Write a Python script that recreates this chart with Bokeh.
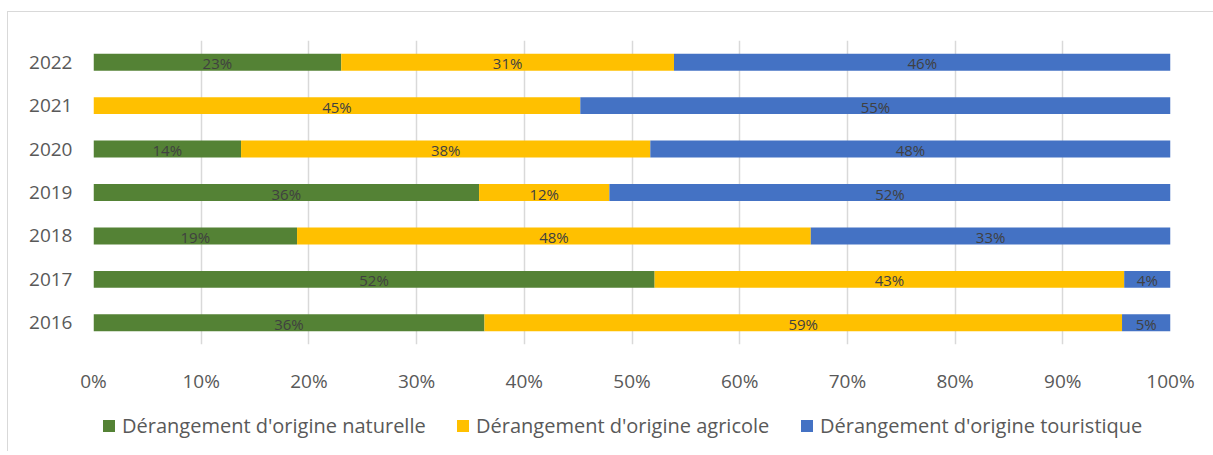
from bokeh.plotting import figure
from bokeh.layouts import column
from bokeh.models import ColumnDataSource, FactorRange, Range1d, FixedTicker, Legend, LegendItem
from bokeh.core.properties import value
from bokeh.embed import file_html
from bokeh.resources import INLINE

# ---- data ----
years = ["2016", "2017", "2018", "2019", "2020", "2021", "2022"]
naturelle = [36.3, 52.1, 18.9, 35.8, 13.7, 0.0, 23.0]
agricole = [59.2, 43.6, 47.7, 12.1, 38.0, 45.2, 30.9]
touristique = [4.5, 4.3, 33.4, 52.1, 48.3, 54.8, 46.1]
naturelle_labels = ["36%", "52%", "19%", "36%", "14%", "", "23%"]
agricole_labels = ["59%", "43%", "48%", "12%", "38%", "45%", "31%"]
touristique_labels = ["5%", "4%", "33%", "52%", "48%", "55%", "46%"]
series_names = ["Dérangement d'origine naturelle",
                "Dérangement d'origine agricole",
                "Dérangement d'origine touristique"]
colors = ["#548235", "#FFC000", "#4472C4"]
x_ticks = [0, 10, 20, 30, 40, 50, 60, 70, 80, 90, 100]
x_tick_labels = ["0%", "10%", "20%", "30%", "40%", "50%", "60%", "70%", "80%", "90%", "100%"]

FONT = "Open Sans"

# ---- main chart ----
p = figure(width=1205, height=384,
           y_range=FactorRange(*years), x_range=Range1d(0, 100),
           output_backend="svg", toolbar_location=None,
           min_border_left=85, min_border_right=43,
           min_border_top=28, min_border_bottom=50)
p.outline_line_color = None

source = ColumnDataSource(dict(years=years, nat=naturelle, agr=agricole, tour=touristique))
renderers = p.hbar_stack(["nat", "agr", "tour"], y="years", height=0.39,
                         color=colors, line_color=None, source=source)

# data labels at segment centers
lx, ly, lt = [], [], []
for i, y in enumerate(years):
    left = 0.0
    for vals, labs in ((naturelle, naturelle_labels), (agricole, agricole_labels),
                       (touristique, touristique_labels)):
        v = vals[i]
        if labs[i]:
            lx.append(left + v / 2.0)
            ly.append(y)
            lt.append(labs[i])
        left += v
lab_src = ColumnDataSource(dict(x=lx, y=ly, text=lt))
p.text(x="x", y="y", text="text", source=lab_src, text_align="center",
       text_baseline="middle", text_font=value(FONT), text_font_size="15px",
       text_color="#404040", y_offset=1)

p.xgrid.ticker = FixedTicker(ticks=x_ticks)
p.xgrid.grid_line_color = "#d9d9d9"
p.xgrid.grid_line_width = 1.5
p.ygrid.grid_line_color = None

p.xaxis.ticker = FixedTicker(ticks=x_ticks)
p.xaxis.major_label_overrides = dict(zip(x_ticks, x_tick_labels))
for ax in (p.xaxis, p.yaxis):
    ax.axis_line_color = None
    ax.major_tick_line_color = None
    ax.minor_tick_line_color = None
    ax.major_label_text_font = FONT
    ax.major_label_text_font_size = "19px"
    ax.major_label_text_color = "#595959"
p.xaxis.major_label_standoff = 17
p.yaxis.major_label_standoff = 15

# ---- legend strip (frame aligned with the chart frame by the column layout) ----
q = figure(width=1205, height=55, x_range=Range1d(0, 1), y_range=Range1d(0, 1),
           output_backend="svg", toolbar_location=None,
           min_border_left=85, min_border_right=43, min_border_top=0, min_border_bottom=0)
q.axis.visible = False
q.grid.visible = False
q.outline_line_color = None
legend_x = [8, 362, 706]
for c, name, lxp in zip(colors, series_names, legend_x):
    # zero-width swatch renderer, only used for the legend glyph
    r = q.hbar(y=[0.5], left=[0], right=[0], height=0.0, color=c, line_color=None)
    lg = Legend(items=[LegendItem(label=name, renderers=[r])],
                location=(lxp, 12), orientation="horizontal",
                padding=0, margin=0, border_line_color=None,
                background_fill_alpha=0, glyph_width=15, glyph_height=15,
                label_standoff=6, label_height=12,
                label_text_font=FONT, label_text_font_size="20px",
                label_text_color="#595959")
    q.add_layout(lg, "center")

layout = column(p, q, spacing=0)
layout.styles = {"margin-left": "7px", "margin-top": "11px",
                 "border-left": "1px solid #d9d9d9", "border-top": "1px solid #d9d9d9"}

open("out.html", "w").write(file_html(layout, INLINE))
